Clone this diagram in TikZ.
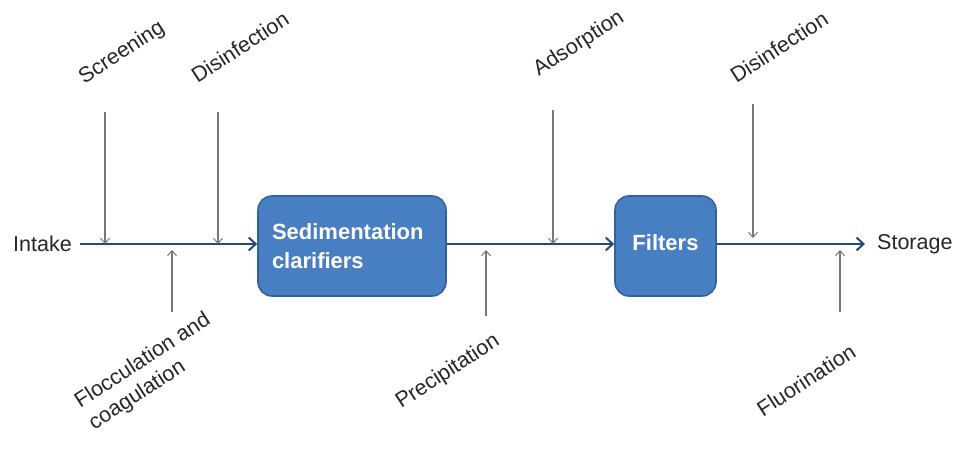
\documentclass[tikz,border=0pt]{standalone}
\usepackage{fontspec}
\setmainfont{Liberation Sans}
\usetikzlibrary{arrows.meta}
\definecolor{boxfill}{RGB}{72,126,194}
\definecolor{boxedge}{RGB}{52,98,160}
\definecolor{flow}{RGB}{34,74,124}
\definecolor{feed}{RGB}{120,120,120}
\tikzset{
  procbox/.style={draw=boxedge, line width=1.6pt, fill=boxfill, rounded corners=14pt, text=white, font=\fontsize{22}{28}\selectfont\bfseries},
  plain/.style={font=\fontsize{21.5}{26}\selectfont, text=black!85, inner sep=0pt},
  slanted/.style={plain, rotate=33},
  flowline/.style={draw=flow, line width=2pt, -{Straight Barb[length=7pt,width=13pt,line width=2pt]}},
  feedline/.style={draw=feed, line width=1.1pt, -{Straight Barb[length=5pt,width=9pt,line width=1pt]}}
}
\begin{document}
\begin{tikzpicture}[x=1pt,y=-1pt]
\useasboundingbox (0,0) rectangle (958,452);
% process boxes
\node[procbox, minimum width=188pt, minimum height=100pt, align=left, text width=160pt] (sed) at (352,246) {Sedimentation\\[1pt]clarifiers};
\node[procbox, minimum width=101pt, minimum height=100pt] (filt) at (665.5,246) {\raisebox{6pt}{Filters}};
% end labels
\node[plain, anchor=east] (intake) at (72,244) {Intake};
\node[plain, anchor=west] (storage) at (877,244) {Storage};
% main flow
\coordinate (s0) at (80,244);
\coordinate (e0) at (865,244);
\draw[flowline] (s0) -- (sed.west |- s0);
\draw[flowline] (sed.east |- s0) -- (filt.west |- s0);
\draw[flowline] (filt.east |- s0) -- (e0);
% labels
\node[slanted] (scr) at (122,53) {Screening};
\node[slanted] (dis1) at (240,47) {Disinfection};
\node[slanted] (ads) at (579,44) {Adsorption};
\node[slanted] (dis2) at (779,47) {Disinfection};
\node[slanted, align=left] (floc) at (150,372) {Flocculation and\\coagulation};
\node[slanted] (prec) at (448,372) {Precipitation};
\node[slanted] (fluo) at (806,380) {Fluorination};
% feed arrows
\coordinate (a1) at (105,112); \coordinate (b1) at (105,244);
\coordinate (a2) at (218,112); \coordinate (b2) at (218,244);
\coordinate (a3) at (553,110); \coordinate (b3) at (553,244);
\coordinate (a4) at (753,104); \coordinate (b4) at (753,238);
\coordinate (a5) at (172,312); \coordinate (b5) at (172,250);
\coordinate (a6) at (486,316); \coordinate (b6) at (486,250);
\coordinate (a7) at (840,312); \coordinate (b7) at (840,250);
\draw[feedline] (a1) -- (b1);
\draw[feedline] (a2) -- (b2);
\draw[feedline] (a3) -- (b3);
\draw[feedline] (a4) -- (b4);
\draw[feedline] (a5) -- (b5);
\draw[feedline] (a6) -- (b6);
\draw[feedline] (a7) -- (b7);
\end{tikzpicture}
\end{document}
